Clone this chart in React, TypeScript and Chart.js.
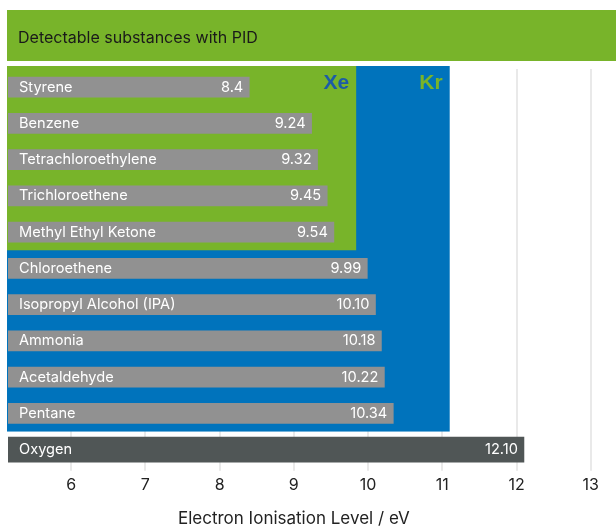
import React, { useEffect, useRef } from "react";
import { Chart, registerables } from "chart.js";

Chart.register(...registerables);

// Substances and their ionisation energies (eV)
const categories = [
  "Styrene",
  "Benzene",
  "Tetrachloroethylene",
  "Trichloroethene",
  "Methyl Ethyl Ketone",
  "Chloroethene",
  "Isopropyl Alcohol (IPA)",
  "Ammonia",
  "Acetaldehyde",
  "Pentane",
  "Oxygen",
];
const ionisationEnergies = [8.4, 9.24, 9.32, 9.45, 9.54, 9.99, 10.1, 10.18, 10.22, 10.34, 12.1];
const valueLabels = ["8.4", "9.24", "9.32", "9.45", "9.54", "9.99", "10.10", "10.18", "10.22", "10.34", "12.10"];
const referenceGas = "Oxygen";

// Lamp energies: the shaded area reaches the lamp energy and covers rows up to lastRow
const lampNames = ["Kr", "Xe"];
const lampEnergies = [11.1, 9.84];
const lampLastRow = [9, 4];

const xTicks = [6, 7, 8, 9, 10, 11, 12, 13];
const xMin = 5.15;
const xMax = 13.34;

const GREEN = "#78b42a";
const BLUE = "#0073bc";
const BAR_GREY = "#919191";
const OXYGEN_GREY = "#505656";
const FONT = "Inter, 'Noto Sans', sans-serif";

const heading = "Detectable substances with PID";
const axisTitle = "Electron Ionisation Level / eV";

const lampColours = [BLUE, GREEN];
const lampTextColours = [GREEN, "#1c5ca6"];

const decorPlugin = {
  id: "decor",
  beforeDraw(chart: any) {
    const { ctx, chartArea } = chart;
    ctx.save();
    ctx.fillStyle = GREEN;
    ctx.fillRect(chartArea.left - 1, 10, chart.width - chartArea.left + 1, 51);
    ctx.fillStyle = "#1a1a1a";
    ctx.font = `16px ${FONT}`;
    ctx.textBaseline = "middle";
    ctx.textAlign = "left";
    ctx.fillText(heading, chartArea.left + 10, 38);
    ctx.restore();
  },
  beforeDatasetsDraw(chart: any) {
    const { ctx, chartArea, scales } = chart;
    const x = scales.x;
    const y = scales.y;
    ctx.save();
    lampNames.forEach((name, i) => {
      const right = x.getPixelForValue(lampEnergies[i]);
      const bottom = y.getPixelForValue(lampLastRow[i] + 0.5);
      const top = chartArea.top - 3;
      ctx.fillStyle = lampColours[i];
      ctx.fillRect(chartArea.left - 1, top, right - chartArea.left + 1, bottom - top);
      ctx.fillStyle = lampTextColours[i];
      ctx.font = `bold 21px 'Liberation Sans', Arial, sans-serif`;
      ctx.textAlign = "right";
      ctx.textBaseline = "middle";
      ctx.fillText(name, right - 7, top + 17);
    });
    ctx.restore();
  },
  afterDatasetsDraw(chart: any) {
    const { ctx, scales, chartArea } = chart;
    ctx.save();
    ctx.fillStyle = "#ffffff";
    ctx.font = `14.6px ${FONT}`;
    ctx.textBaseline = "middle";
    chart.data.datasets.forEach((ds: any, di: number) => {
      const meta = chart.getDatasetMeta(di);
      meta.data.forEach((bar: any, i: number) => {
        if (ds.data[i] == null) return;
        const start = Math.max(bar.base, chartArea.left);
        ctx.textAlign = "left";
        ctx.fillText(categories[i], start + 11, bar.y);
        ctx.textAlign = "right";
        ctx.fillText(valueLabels[i], bar.x - 6, bar.y);
      });
    });
    // axis title
    ctx.fillStyle = "#222222";
    ctx.font = `17px ${FONT}`;
    ctx.textAlign = "center";
    ctx.textBaseline = "middle";
    ctx.fillText(axisTitle, scales.x.getPixelForValue(9), chartArea.bottom + 51);
    ctx.restore();
  },
};

export default function App() {
  const canvasRef = useRef<HTMLCanvasElement | null>(null);

  useEffect(() => {
    if (!canvasRef.current) return;
    const isRef = (c: string) => c === referenceGas;
    const chart = new Chart(canvasRef.current, {
      type: "bar",
      data: {
        labels: categories,
        datasets: [
          {
            label: "Substances",
            data: ionisationEnergies.map((v, i) => (isRef(categories[i]) ? null : v)),
            backgroundColor: BAR_GREY,
            barThickness: 20,
            grouped: false,
            base: xMin,
          },
          {
            label: referenceGas,
            data: ionisationEnergies.map((v, i) => (isRef(categories[i]) ? v : null)),
            backgroundColor: OXYGEN_GREY,
            barThickness: 25,
            grouped: false,
            base: xMin,
          },
        ],
      },
      options: {
        indexAxis: "y",
        responsive: false,
        animation: false,
        layout: { padding: { top: 69, left: 8, right: 0, bottom: 29 } },
        plugins: {
          legend: { display: false },
          tooltip: { enabled: false },
        },
        scales: {
          x: {
            type: "linear",
            min: xMin,
            max: xMax,
            afterBuildTicks: (scale: any) => {
              scale.ticks = xTicks.map((v) => ({ value: v }));
            },
            grid: {
              color: "#e9e9e9",
              lineWidth: 2,
              tickLength: 3,
              drawTicks: true,
            },
            border: { display: false },
            ticks: {
              color: "#222222",
              font: { family: FONT, size: 16 },
              padding: 5,
              maxRotation: 0,
              autoSkip: false,
            },
          },
          y: {
            display: false,
          },
        },
      },
      plugins: [decorPlugin],
    } as any);
    return () => chart.destroy();
  }, []);

  return (
    <canvas
      ref={canvasRef}
      width={616}
      height={529}
      style={{ position: "fixed", left: 0, top: 0, width: 616, height: 529, display: "block" }}
    />
  );
}
